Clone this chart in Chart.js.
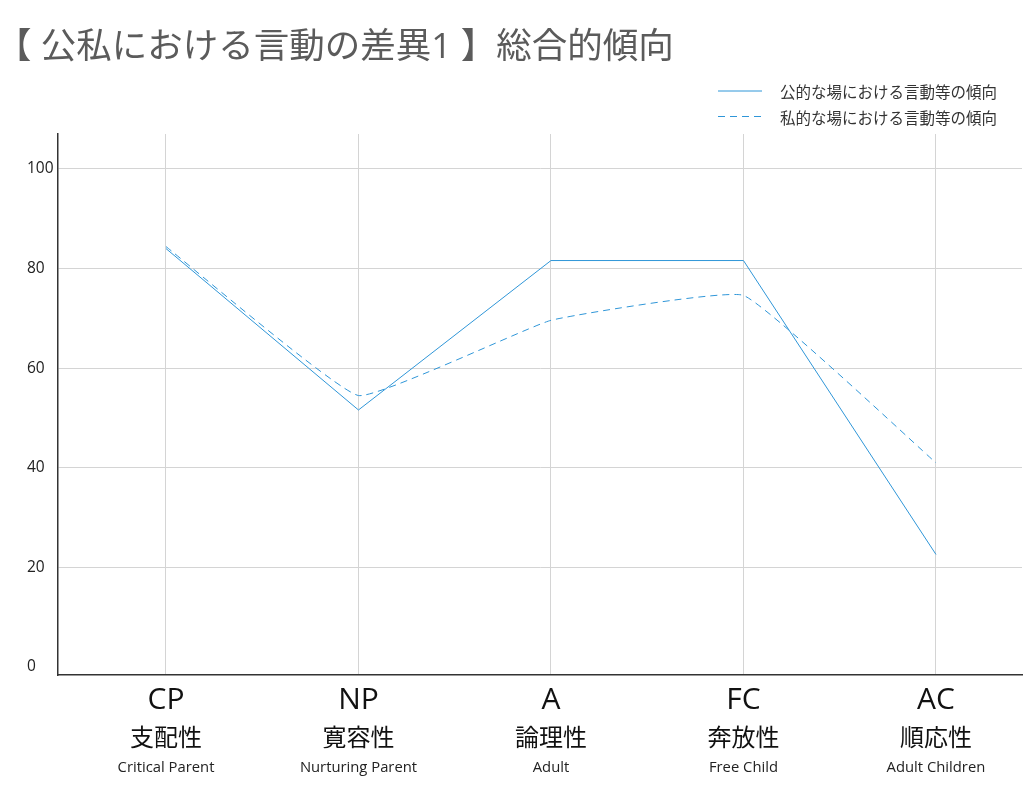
<!DOCTYPE html>
<html>
<head>
<meta charset="utf-8">
<script src="https://cdn.jsdelivr.net/npm/chart.js@4.4.1/dist/chart.umd.min.js"></script>
<style>
  body { margin: 0; background: #fff; }
  #wrap { position: relative; width: 1036px; height: 800px; }
  #title {
    position: absolute; left: -4px; top: 27px;
    font-family: 'Open Sans', 'Noto Sans CJK JP', sans-serif;
    font-size: 35.5px; line-height: 1; color: #5b5b5b; white-space: nowrap;
  }
</style>
</head>
<body>
<div id="wrap">
  <div id="title">【 公私における言動の差異1 】総合的傾向</div>
  <canvas id="myChart"></canvas>
</div>
<script>
var categories = ['CP', 'NP', 'A', 'FC', 'AC'];
var jpLabels = ['支配性', '寛容性', '論理性', '奔放性', '順応性'];
var enLabels = ['Critical Parent', 'Nurturing Parent', 'Adult', 'Free Child', 'Adult Children'];
var seriesNames = ['公的な場における言動等の傾向', '私的な場における言動等の傾向'];
var publicValues = [84.0, 51.6, 81.6, 81.6, 22.6];
var privateValues = [84.4, 54.5, 69.6, 74.6, 41.0];
var yTicks = [0, 20, 40, 60, 80, 100];

var LATIN = "'Open Sans', 'Noto Sans CJK JP', sans-serif";
var CJK = "'Noto Sans CJK JP', sans-serif";
var lineColor = '#2f96d8';

function points(values) {
    return values.map(function(v, i) { return {x: i, y: v}; });
}

function catTicks(scale) {
    scale.ticks = categories.map(function(c, i) { return {value: i}; });
}

function fixHeight(h) {
    return function(scale) { scale.height = h; };
}

// legend drawn as two stacked rows, top right
var stackedLegend = {
    id: 'stackedLegend',
    afterDraw: function(chart) {
        var ctx = chart.ctx;
        chart.data.datasets.forEach(function(ds, i) {
            var y = 91 + i * 25.5;
            ctx.save();
            ctx.strokeStyle = ds.borderColor;
            ctx.lineWidth = 1;
            ctx.setLineDash(ds.borderDash || []);
            ctx.beginPath();
            ctx.moveTo(718, y);
            ctx.lineTo(762, y);
            ctx.stroke();
            ctx.setLineDash([]);
            ctx.fillStyle = '#333';
            ctx.font = '15.5px ' + CJK;
            ctx.textBaseline = 'middle';
            ctx.fillText(ds.label, 780, y + 1.5);
            ctx.restore();
        });
    }
};

function chart() {
    var ctx = document.getElementById('myChart');
    return new Chart(ctx, {
        type: 'line',
        data: {
            datasets: [
                {
                    label: seriesNames[0],
                    data: points(publicValues),
                    borderColor: lineColor,
                    borderWidth: 1,
                    pointRadius: 0,
                    tension: 0
                },
                {
                    label: seriesNames[1],
                    data: points(privateValues),
                    borderColor: lineColor,
                    borderWidth: 1,
                    borderDash: [7, 5],
                    pointRadius: 0,
                    tension: 0.1
                }
            ]
        },
        options: {
            responsive: true,
            maintainAspectRatio: false,
            animation: false,
            layout: { padding: { left: 27, right: 14, top: 134, bottom: 14.4 } },
            plugins: {
                legend: { display: false },
                tooltip: { enabled: false }
            },
            scales: {
                x: {
                    type: 'linear', position: 'bottom', weight: 0,
                    min: -0.561, max: 4.447,
                    afterBuildTicks: catTicks,
                    afterFit: fixHeight(40),
                    grid: { color: '#d4d4d4', drawTicks: false },
                    border: { color: '#333', width: 1.5 },
                    ticks: {
                        autoSkip: false, maxRotation: 0, padding: 10, color: '#111',
                        font: { family: LATIN, size: 30, lineHeight: 1 },
                        callback: function(v) { return categories[v]; }
                    }
                },
                x2: {
                    type: 'linear', position: 'bottom', weight: 1,
                    min: -0.561, max: 4.447,
                    afterBuildTicks: catTicks,
                    afterFit: fixHeight(33.6),
                    grid: { display: false },
                    border: { display: false },
                    ticks: {
                        autoSkip: false, maxRotation: 0, padding: 2, color: '#111',
                        font: { family: CJK, size: 24, lineHeight: 1 },
                        callback: function(v) { return jpLabels[v]; }
                    }
                },
                x3: {
                    type: 'linear', position: 'bottom', weight: 2,
                    min: -0.561, max: 4.447,
                    afterBuildTicks: catTicks,
                    afterFit: fixHeight(37),
                    grid: { display: false },
                    border: { display: false },
                    ticks: {
                        autoSkip: false, maxRotation: 0, padding: 4, color: '#222',
                        font: { family: LATIN, size: 14.8, lineHeight: 1 },
                        callback: function(v) { return enLabels[v]; }
                    }
                },
                y: {
                    min: -1.6, max: 107,
                    afterBuildTicks: function(scale) {
                        scale.ticks = yTicks.map(function(v) { return {value: v}; });
                    },
                    afterFit: function(scale) { scale.width = 31; },
                    grid: {
                        drawTicks: false,
                        color: function(c) { return c.tick && c.tick.value === 0 ? 'rgba(0,0,0,0)' : '#d4d4d4'; }
                    },
                    border: { color: '#333', width: 1.5 },
                    ticks: {
                        crossAlign: 'far', color: '#222',
                        font: { family: LATIN, size: 15.5, lineHeight: 1 }
                    }
                }
            }
        },
        plugins: [stackedLegend]
    });
}

chart();
</script>
</body>
</html>
